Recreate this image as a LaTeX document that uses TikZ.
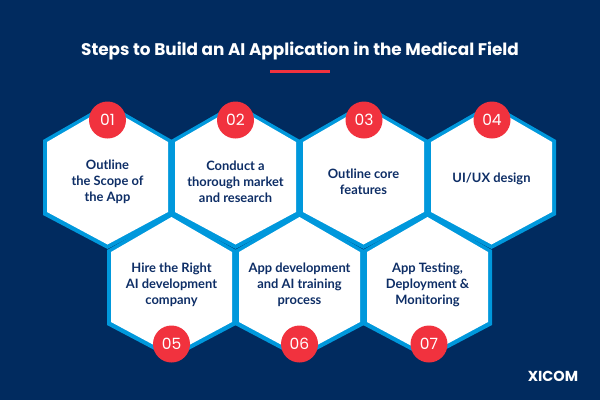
\documentclass[tikz,border=0pt]{standalone}
\usepackage{fontspec}
\setmainfont{Lato}
\newfontfamily\popf{Poppins}
\definecolor{navybg}{HTML}{012B5F}
\definecolor{wallblue}{HTML}{0098DC}
\definecolor{badgered}{HTML}{F1323E}
\definecolor{inktext}{HTML}{0E2E66}
\tikzset{
  badge/.style={circle,fill=badgered,draw=none,minimum size=37pt,inner sep=0pt,text=white,font=\popf\fontsize{15.5}{16}\selectfont},
  steptext/.style={align=center,text=inktext,inner sep=0pt,font=\bfseries\fontsize{12.9}{16}\selectfont},
}
\newcommand{\hexwall}[2]{\fill[wallblue] (#1-64.5,#2-37) -- (#1,#2-74) -- (#1+64.5,#2-37) -- (#1+64.5,#2+38) -- (#1,#2+72) -- (#1-64.5,#2+38) -- cycle;}
\newcommand{\hexface}[2]{\fill[white] (#1-60.5,#2-35) -- (#1,#2-70) -- (#1+60.5,#2-35) -- (#1+60.5,#2+35) -- (#1,#2+67.5) -- (#1-60.5,#2+35) -- cycle;}
\begin{document}
\begin{tikzpicture}[x=1pt,y=-1pt]
\fill[navybg] (0,0) rectangle (600,400);
\useasboundingbox (0,0) rectangle (600,400);
\node[text=white,inner sep=0pt,font=\popf\bfseries\fontsize{16.85}{20}\selectfont] (title) at (300,50.5) {Steps to Build an AI Application in the Medical Field};
\fill[badgered] (270,70) rectangle (330,73);
\foreach \cx in {107.5,235.5,363.5,491.5} {\hexwall{\cx}{177}}
\foreach \cx in {171.5,299.5,427.5} {\hexwall{\cx}{287}}
\foreach \cx in {107.5,235.5,363.5,491.5} {\hexface{\cx}{177}}
\foreach \cx in {171.5,299.5,427.5} {\hexface{\cx}{287}}
\node[steptext] (t1) at (107.5,181.5) {Outline\\the Scope of\\the App};
\node[steptext] (t2) at (235.5,181.5) {Conduct a\\thorough market\\and research};
\node[steptext] (t3) at (363.5,181.5) {Outline core\\features};
\node[steptext] (t4) at (491.5,178.5) {UI/UX design};
\node[steptext] (t5) at (171.5,285) {Hire the Right\\AI development\\company};
\node[steptext] (t6) at (299.5,285) {App development\\and AI training\\process};
\node[steptext] (t7) at (427.5,285) {App Testing,\\Deployment \&\\Monitoring};
\node[badge] (b1) at (107.5,120) {01};
\node[badge] (b2) at (235.5,120) {02};
\node[badge] (b3) at (364,120) {03};
\node[badge] (b4) at (492,120) {04};
\node[badge] (b5) at (171.5,344) {05};
\node[badge] (b6) at (299.5,344) {06};
\node[badge] (b7) at (429,344) {07};
\node[text=white,inner sep=0pt,font=\popf\bfseries\fontsize{14.5}{14}\selectfont] (logo) at (553,376.5) {XICOM};
\end{tikzpicture}
\end{document}
